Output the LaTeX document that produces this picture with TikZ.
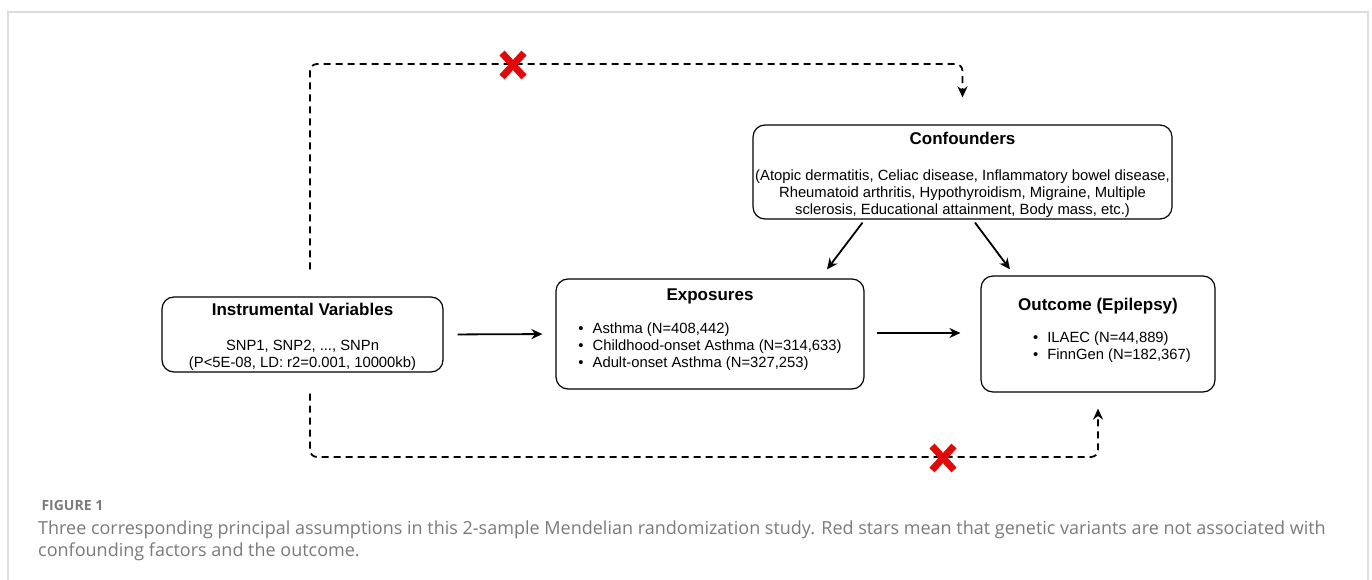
\documentclass[tikz,border=0pt]{standalone}
\usepackage{fontspec}
\setmainfont{Liberation Sans}
\newfontfamily\capfont{Open Sans}
\usetikzlibrary{arrows.meta,positioning}
\definecolor{frameGray}{HTML}{DDDDDD}
\definecolor{capGray}{HTML}{7A7A7A}
\definecolor{crossRed}{HTML}{E00A0A}

\newcommand{\bodyfont}{\fontsize{14.8}{17}\selectfont}
\newcommand{\titlefont}{\fontsize{17}{17}\selectfont\bfseries}

\begin{document}
\begin{tikzpicture}[x=1pt,y=-1pt,
        box/.style={draw, line width=1.2pt, rounded corners=12pt, align=center, inner sep=2pt, font=\bodyfont},
        arr/.style={line width=1.8pt, -{Stealth[length=11pt,width=10pt]}},
        dashline/.style={line width=1.8pt, dash pattern=on 7pt off 5pt, rounded corners=7pt, -{Stealth[length=11pt,width=10pt]}},
        crossmark/.style={crossRed, line width=7pt}]

        % page size and the light frame
        \useasboundingbox (0,0) rectangle (1372,580);
        \draw[frameGray, line width=1.5pt] (8,580) -- (8,12) -- (1368,12) -- (1368,580);

        % the four boxes
        \node[box, inner ysep=0pt, minimum width=281pt, minimum height=75pt] (iv) at (302.5,334.5)
            {{\titlefont\rule{0pt}{18pt}Instrumental Variables}\\[18pt]
             SNP1, SNP2, ..., SNPn\\
             (P<5E-08, LD: r2=0.001, 10000kb)};
        \node[box, minimum width=308pt, minimum height=110pt] (expo) at (710,334)
            {{\titlefont Exposures}\\[16pt]
             \begin{tabular}{@{}l@{\hspace{9pt}}l@{}}
             \textbullet & Asthma (N=408,442)\\
             \textbullet & Childhood-onset Asthma (N=314,633)\\
             \textbullet & Adult-onset Asthma (N=327,253)
             \end{tabular}\\[6pt]};
        \node[box, inner ysep=0pt, minimum width=419pt, minimum height=94pt] (conf) at (962.5,172)
            {{\titlefont\rule{0pt}{19pt}Confounders}\\[19pt]
             (Atopic dermatitis, Celiac disease, Inflammatory bowel disease,\\
             Rheumatoid arthritis, Hypothyroidism, Migraine, Multiple\\
             sclerosis, Educational attainment, Body mass, etc.)};
        \node[box, minimum width=234pt, minimum height=116pt] (outc) at (1098,334)
            {{\titlefont\rule{0pt}{25pt}Outcome (Epilepsy)}\\[15pt]
             \begin{tabular}{@{\hspace{28pt}}l@{\hspace{9pt}}l@{}}
             \textbullet & ILAEC (N=44,889)\\
             \textbullet & FinnGen (N=182,367)
             \end{tabular}\\[14pt]};

        % causal arrows
        \draw[arr, shorten <=14pt, shorten >=13pt] (iv.east) -- (expo.west);
        \draw[arr, shorten <=12pt, shorten >=20pt] ([yshift=1pt]expo.east) -- ([yshift=1pt]outc.west);
        \draw[arr] ([xshift=-100pt,yshift=-3pt]conf.south) -- ([xshift=117pt,yshift=9pt]expo.north);
        \draw[arr] ([xshift=12.5pt,yshift=-3pt]conf.south) -- ([xshift=-88pt,yshift=6pt]outc.north);

        % excluded pathways
        \coordinate (topline) at (0,64);
        \coordinate (botline) at (0,457);
        \draw[dashline] ([xshift=7.5pt,yshift=27pt]iv.north) -- ([xshift=7.5pt]iv.north |- topline) -- (conf.north |- topline) -- ([yshift=27pt]conf.north);
        \draw[dashline] ([xshift=7.5pt,yshift=-21pt]iv.south) -- ([xshift=7.5pt]iv.south |- botline) -- (outc.south |- botline) -- ([yshift=-16pt]outc.south);

        % red crosses on the dashed paths
        \coordinate (xtop) at (513,65);
        \coordinate (xbot) at (943,458);
        \foreach \c in {xtop, xbot} {
            \draw[crossmark] ([shift={(-11pt,12pt)}]\c) -- ([shift={(11pt,-12pt)}]\c);
            \draw[crossmark] ([shift={(-11pt,-12pt)}]\c) -- ([shift={(11pt,12pt)}]\c);
        }

        % caption
        \node[anchor=base west, text=capGray, font=\capfont\fontsize{14}{16}\selectfont\bfseries] (figlabel) at (38,510) {FIGURE 1};
        \node[anchor=north west, text=capGray, align=left, inner sep=0pt, font=\capfont\fontsize{18}{22}\selectfont] (caption) at (38,521)
            {Three corresponding principal assumptions in this 2-sample Mendelian randomization study. Red stars mean that genetic variants are not associated with\\
             confounding factors and the outcome.};

\end{tikzpicture}
\end{document}
